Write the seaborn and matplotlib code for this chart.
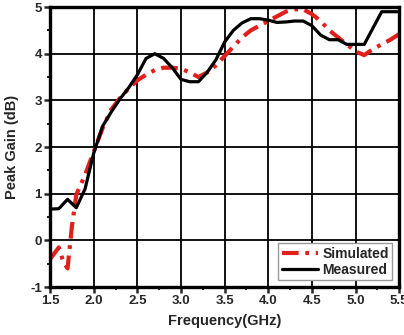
import numpy as np
import pandas as pd
import matplotlib
matplotlib.use("Agg")
import matplotlib.pyplot as plt
import seaborn as sns
from matplotlib.ticker import MultipleLocator, FormatStrFormatter

freq_meas = [1.5, 1.6, 1.7, 1.8, 1.9, 2.0, 2.1, 2.2, 2.3, 2.4, 2.5, 2.6, 2.7, 2.8, 2.9,
             3.0, 3.1, 3.2, 3.3, 3.4, 3.5, 3.6, 3.7, 3.8, 3.9, 4.0, 4.1, 4.2, 4.3, 4.4,
             4.5, 4.6, 4.7, 4.8, 4.9, 5.0, 5.1, 5.2, 5.3, 5.4, 5.5]
gain_meas = [0.67, 0.68, 0.88, 0.7, 1.1, 1.87, 2.44, 2.75, 3.03, 3.27, 3.55, 3.9, 4.0, 3.9, 3.7,
             3.45, 3.4, 3.4, 3.6, 3.87, 4.25, 4.5, 4.66, 4.75, 4.75, 4.72, 4.67, 4.68, 4.7, 4.7,
             4.6, 4.4, 4.3, 4.3, 4.2, 4.2, 4.2, 4.55, 4.9, 4.9, 4.9]

freq_sim = [1.5, 1.6, 1.65, 1.7, 1.75, 1.8, 1.9, 2.0, 2.1, 2.2, 2.3, 2.4, 2.5, 2.6, 2.7, 2.8,
            2.9, 3.0, 3.1, 3.2, 3.3, 3.4, 3.5, 3.6, 3.7, 3.8, 3.9, 4.0, 4.1, 4.2, 4.3, 4.4,
            4.5, 4.6, 4.7, 4.8, 4.9, 5.0, 5.1, 5.2, 5.3, 5.4, 5.5]
gain_sim = [-0.4, -0.15, -0.45, -0.6, 0.3, 0.98, 1.4, 1.9, 2.4, 2.8, 3.05, 3.25, 3.43, 3.55, 3.65, 3.7,
            3.7, 3.68, 3.6, 3.5, 3.6, 3.75, 3.95, 4.15, 4.35, 4.5, 4.6, 4.7, 4.8, 4.9, 4.95, 4.95,
            4.85, 4.7, 4.5, 4.35, 4.2, 4.05, 3.97, 4.1, 4.2, 4.3, 4.42]

sns.set_style("ticks")
plt.rcParams['font.family'] = ['Liberation Sans', 'DejaVu Sans']
plt.rcParams['font.weight'] = 'bold'

fig = plt.figure(figsize=(4.04, 3.35), dpi=100)
ax = fig.add_axes([0.124, 0.143, 0.864, 0.836])

df_sim = pd.DataFrame({"Frequency": freq_sim, "Gain": gain_sim})
df_meas = pd.DataFrame({"Frequency": freq_meas, "Gain": gain_meas})

sns.lineplot(data=df_sim, x="Frequency", y="Gain", ax=ax, color="#e0201c",
             linewidth=3.0, linestyle=(0, (4, 1.6, 0.9, 1.6)), label="Simulated")
sns.lineplot(data=df_meas, x="Frequency", y="Gain", ax=ax, color="black",
             linewidth=2.3, label="Measured")

ax.set_xlim(1.5, 5.5)
ax.set_ylim(-1, 5)
ax.xaxis.set_major_locator(MultipleLocator(0.5))
ax.xaxis.set_minor_locator(MultipleLocator(0.25))
ax.yaxis.set_major_locator(MultipleLocator(1))
ax.yaxis.set_minor_locator(MultipleLocator(0.5))
ax.xaxis.set_major_formatter(FormatStrFormatter('%.1f'))
ax.yaxis.set_major_formatter(FormatStrFormatter('%d'))

ax.grid(True, which='major', color='black', linewidth=1.3)
for s in ax.spines.values():
    s.set_linewidth(2.4)
    s.set_color('black')
ax.tick_params(axis='both', which='major', direction='out', length=4, width=1.8,
               labelsize=9.5, pad=2)
ax.tick_params(axis='both', which='minor', direction='out', length=2.5, width=1.5)
for lbl in ax.get_xticklabels() + ax.get_yticklabels():
    lbl.set_fontweight('bold')

ax.set_xlabel("Frequency(GHz)", fontsize=10.5, fontweight='bold', labelpad=5)
ax.set_ylabel("Peak Gain (dB)", fontsize=10.5, fontweight='bold', labelpad=8)

leg = ax.legend(loc='lower right', frameon=True, fancybox=False, fontsize=10,
                handlelength=2.6, handletextpad=0.3, borderpad=0.25, labelspacing=0.15,
                borderaxespad=0.5)
leg.get_frame().set_edgecolor('#999999')
leg.get_frame().set_linewidth(1.0)
leg.get_frame().set_alpha(1)
for t in leg.get_texts():
    t.set_fontweight('bold')

fig.savefig("out.png", dpi=100)
